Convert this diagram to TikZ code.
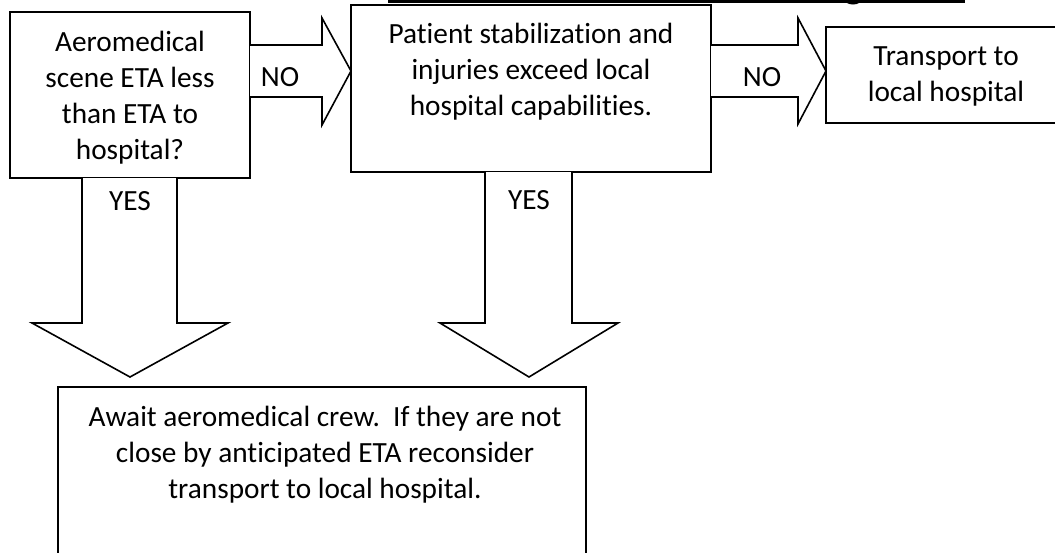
\documentclass[tikz,border=0pt]{standalone}
\usepackage{fontspec}
\setmainfont{Carlito}[Ligatures={NoCommon}]
\begin{document}
\begin{tikzpicture}[x=1pt,y=-1pt,
  box/.style={draw=black,line width=1.6pt,rectangle,inner sep=0pt,outer sep=0pt,fill=white},
  txt/.style={inner sep=0pt,outer sep=0pt,align=center,font=\fontsize{29.3}{36}\selectfont,anchor=base},
  blockarrow/.style={draw=black,line width=1.6pt,line join=miter,fill=white}]
\useasboundingbox (0,0) rectangle (1055,552);
\clip (0,0) rectangle (1055,552);
\fill[white] (0,0) rectangle (1055,552);
% cut-off title underline
\coordinate (ulA) at (388,1.5);
\coordinate (ulB) at (965,1.5);
\draw[line width=3pt] (ulA) -- (ulB);
\fill[black] (853,0) ellipse [x radius=8, y radius=4.5];
% boxes
\node[box,minimum width=240pt,minimum height=166pt] (b1) at (130,95) {};
\node[box,minimum width=360pt,minimum height=167pt] (b2) at (531,88.5) {};
\node[box,minimum width=250pt,minimum height=96pt,anchor=west] (b3) at (826,75) {};
\node[box,minimum width=528pt,minimum height=190pt,anchor=north] (b4) at (322,387) {};
% texts
\node[txt] (t1) at (130,159) {Aeromedical\\scene ETA less\\than ETA to\\hospital?};
\node[txt] (t2) at (531,115) {Patient stabilization and\\injuries exceed local\\hospital capabilities.};
\node[txt] (t3) at (946,101) {Transport to\\local hospital};
\node[txt] (t4) at (325,498) {Await aeromedical crew.\ \ If they are not\\close by anticipated ETA reconsider\\transport to local hospital.};
% row / column helpers
\coordinate (hT) at (0,45);
\coordinate (hB) at (0,97);
\coordinate (hTip) at (0,71);
% NO arrow 1
\draw[blockarrow] (b1.east |- hT) -- (322,45) -- (322,18) -- (b2.west |- hTip) -- (322,125) -- (322,97) -- (b1.east |- hB);
\node[txt] (no1) at (280,86) {NO};
% NO arrow 2
\draw[blockarrow] (b2.east |- hT) -- (798,45) -- (798,18) -- (b3.west |- hTip) -- (798,124) -- (798,97) -- (b2.east |- hB);
\node[txt] (no2) at (762,86) {NO};
% YES arrow 1
\coordinate (tip1) at (130,377);
\draw[blockarrow] (82,0 |- b1.south) -- (82,323) -- (32,323) -- (tip1) -- (228,323) -- (177,323) -- (177,0 |- b1.south);
\node[txt] (yes1) at (130,210) {YES};
% YES arrow 2
\coordinate (tip2) at (529,377);
\draw[blockarrow] (485,0 |- b2.south) -- (485,323) -- (440,323) -- (tip2) -- (618,323) -- (572,323) -- (572,0 |- b2.south);
\node[txt] (yes2) at (529,209) {YES};
\end{tikzpicture}
\end{document}
